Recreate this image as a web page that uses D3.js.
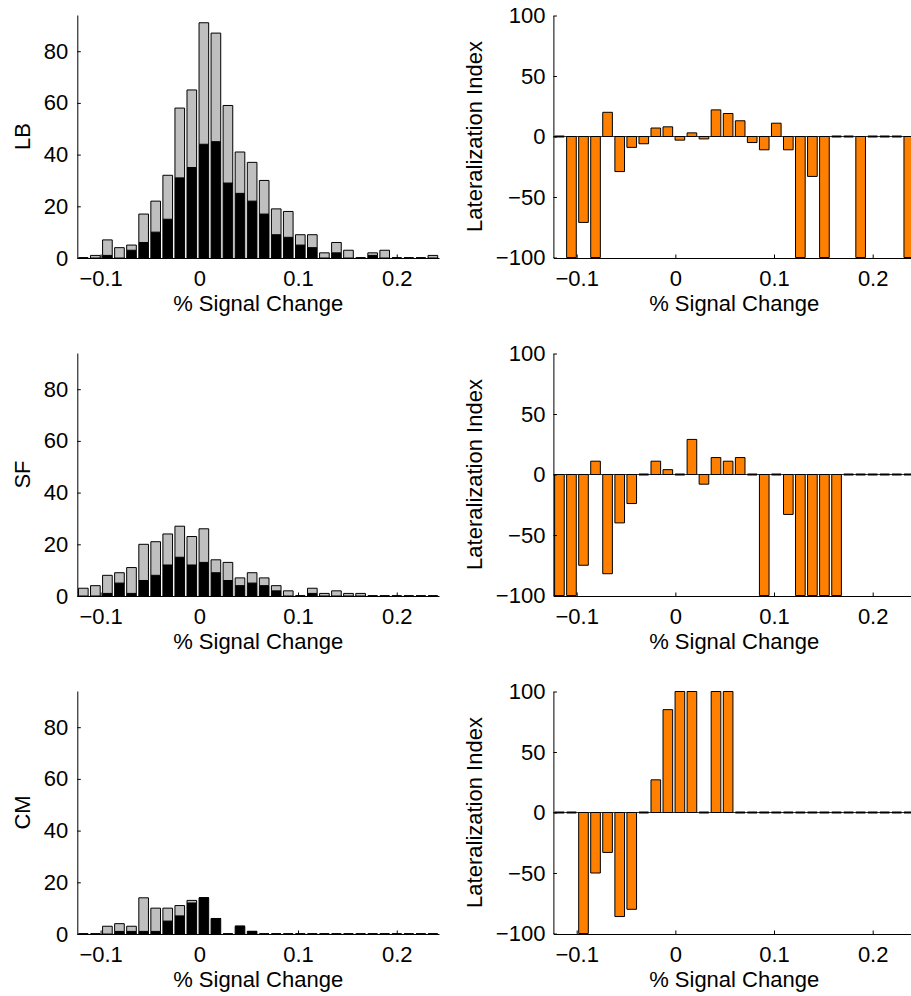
<!DOCTYPE html>
<html>
<head>
<meta charset="utf-8">
<script src="https://cdn.jsdelivr.net/npm/d3@7"></script>
<style>
  html, body { margin: 0; padding: 0; background: #fff; }
  svg { display: block; }
  text { font-family: "Liberation Sans", Arial, Helvetica, sans-serif; }
</style>
</head>
<body>
<svg id="fig" width="911" height="996"></svg>
<script>
// Histogram bin centres (% signal change), shared by all panels
const binCenters = [-0.1175, -0.1053, -0.0931, -0.0809, -0.0687, -0.0564, -0.0442, -0.0320, -0.0198, -0.0076,
                     0.0046,  0.0168,  0.0290,  0.0412,  0.0535,  0.0657,  0.0779,  0.0901,  0.1023,  0.1145,
                     0.1267,  0.1389,  0.1511,  0.1634,  0.1756,  0.1878,  0.2000,  0.2122,  0.2244,  0.2366];
const binWidth = 0.012213;
const xDomain = [-0.1236, 0.2428];

const groupNames = ["LB", "SF", "CM"];

// Voxel counts per bin: black (lower) segment and grey (upper) segment
const lbBlack = [0, 0, 1, 0, 3, 6, 10, 15, 31, 35, 44, 45, 29, 25, 22, 17, 9, 8, 5, 4, 0, 2, 0, 0, 1, 0, 0, 0, 0, 0];
const lbGray  = [0, 1, 6, 4, 2, 11, 12, 17, 27, 30, 47, 42, 30, 16, 15, 13, 10, 10, 4, 5, 2, 4, 3, 0, 1, 3, 0, 0, 0, 1];
const sfBlack = [0, 0, 1, 5, 1, 6, 8, 12, 15, 12, 13, 9, 6, 4, 5, 4, 2, 0, 0, 1, 0, 0, 0, 0, 0, 0, 0, 0, 0, 0];
const sfGray  = [3, 4, 7, 4, 10, 14, 13, 12, 12, 11, 13, 5, 7, 3, 4, 3, 2, 2, 0, 2, 1, 2, 1, 1, 0, 0, 0, 0, 0, 0];
const cmBlack = [0, 0, 0, 1, 1, 1, 1, 5, 7, 12, 14, 6, 0, 3, 1, 0, 0, 0, 0, 0, 0, 0, 0, 0, 0, 0, 0, 0, 0, 0];
const cmGray  = [0, 0, 3, 3, 2, 13, 9, 5, 4, 1, 0, 0, 0, 0, 0, 0, 0, 0, 0, 0, 0, 0, 0, 0, 0, 0, 0, 0, 0, 0];

// Lateralization index per bin
const lbLI = [0, -100, -71, -100, 20, -29, -9, -6, 7, 8, -3, 3, -2, 22, 19, 13, -5, -11, 11, -11, -100, -33, -100, 0, 0, -100, 0, 0, 0, -100];
const sfLI = [-100, -100, -75, 11, -82, -40, -24, 0, 11, 4, 0, 29, -8, 14, 11, 14, 0, -100, 0, -33, -100, -100, -100, -100, 0, 0, 0, 0, 0, 0];
const cmLI = [0, 0, -100, -50, -33, -86, -80, 0, 27, 85, 100, 100, 0, 100, 100, 0, 0, 0, 0, 0, 0, 0, 0, 0, 0, 0, 0, 0, 0, 0];

// Tick values
const xTicks = [-0.1, 0, 0.1, 0.2];
const countTicks = [0, 20, 40, 60, 80];
const liTicks = [-100, -50, 0, 50, 100];

const rows = [
  { name: groupNames[0], black: lbBlack, gray: lbGray, li: lbLI },
  { name: groupNames[1], black: sfBlack, gray: sfGray, li: sfLI },
  { name: groupNames[2], black: cmBlack, gray: cmGray, li: cmLI }
];

const svg = d3.select("#fig");
const rowTop = [15, 353, 691];
const plotH = 243;
const leftRange = [77.3, 439];
const rightRange = [553.4, 914.9];
const FS = 22;
const tickLen = 3.5;
const barFrac = 0.8;

const fmt = d3.format("~g");

// closed bar outline; zero-height bars still show their edge
function barPath(x0, x1, y0, y1) {
  return `M${x0},${y0}H${x1}V${y1}H${x0}Z`;
}

function styleAxis(g) {
  g.selectAll("path.domain").attr("stroke", "#000").attr("stroke-width", 1);
  g.selectAll(".tick line").attr("stroke", "#000").attr("stroke-width", 1);
  g.selectAll(".tick text").attr("fill", "#000").style("font-size", FS + "px")
    .style("font-family", '"Liberation Sans", Arial, sans-serif');
}

rows.forEach((row, r) => {
  const top = rowTop[r];
  const bottom = top + plotH;

  // ---- left: stacked count histogram ----
  const xL = d3.scaleLinear().domain(xDomain).range(leftRange);
  const yL = d3.scaleLinear().domain([0, 94]).range([bottom, top]);
  const gL = svg.append("g");

  const stackData = binCenters.map((c, i) => ({ c, black: row.black[i], gray: row.gray[i] }));
  const stacked = d3.stack().keys(["black", "gray"])(stackData);
  const fills = { black: "#000000", gray: "#bfbfbf" };

  stacked.forEach(layer => {
    gL.append("g").selectAll("path")
      .data(layer)
      .join("path")
      .attr("d", d => {
        const x0 = xL(d.data.c - binWidth * barFrac / 2);
        const x1 = xL(d.data.c + binWidth * barFrac / 2);
        return barPath(x0, x1, yL(d[0]), yL(d[1]));
      })
      .attr("fill", fills[layer.key])
      .attr("stroke", "#000")
      .attr("stroke-width", d => (d[1] - d[0] === 0 && d[0] === 0) ? 1.6 : 1);
  });

  const axL = gL.append("g").attr("transform", `translate(${leftRange[0]},0)`)
    .call(d3.axisLeft(yL).tickValues(countTicks).tickFormat(fmt)
      .tickSizeInner(-tickLen).tickSizeOuter(0).tickPadding(9));
  styleAxis(axL);
  const axLB = gL.append("g").attr("transform", `translate(0,${bottom})`)
    .call(d3.axisBottom(xL).tickValues(xTicks).tickFormat(fmt)
      .tickSizeInner(-tickLen).tickSizeOuter(0).tickPadding(12));
  styleAxis(axLB);

  gL.append("text")
    .attr("transform", `translate(29.5,${(top + bottom) / 2}) rotate(-90)`)
    .attr("text-anchor", "middle")
    .style("font-size", FS + "px")
    .text(row.name);
  gL.append("text")
    .attr("x", (leftRange[0] + leftRange[1]) / 2)
    .attr("y", bottom + 53)
    .attr("text-anchor", "middle")
    .style("font-size", FS + "px")
    .text("% Signal Change");

  // ---- right: lateralization index per bin ----
  const xR = d3.scaleLinear().domain(xDomain).range(rightRange);
  const yR = d3.scaleLinear().domain([-100, 100]).range([bottom - 0.5, top + 0.5]);
  const gR = svg.append("g");

  // zero baseline
  gR.append("line")
    .attr("x1", rightRange[0]).attr("x2", rightRange[1])
    .attr("y1", yR(0)).attr("y2", yR(0))
    .attr("stroke", "#000").attr("stroke-width", 0.8);

  gR.append("g").selectAll("path")
    .data(binCenters.map((c, i) => ({ c, v: row.li[i] })))
    .join("path")
    .attr("d", d => {
      const x0 = xR(d.c - binWidth * barFrac / 2);
      const x1 = xR(d.c + binWidth * barFrac / 2);
      return barPath(x0, x1, yR(0), yR(d.v));
    })
    .attr("fill", "#ff8000")
    .attr("stroke", "#000")
    .attr("stroke-width", d => d.v === 0 ? 1.8 : 1);

  const axR = gR.append("g").attr("transform", `translate(${rightRange[0]},0)`)
    .call(d3.axisLeft(yR).tickValues(liTicks).tickFormat(fmt)
      .tickSizeInner(-tickLen).tickSizeOuter(0).tickPadding(8));
  styleAxis(axR);
  const axRB = gR.append("g").attr("transform", `translate(0,${bottom})`)
    .call(d3.axisBottom(xR).tickValues(xTicks).tickFormat(fmt)
      .tickSizeInner(-tickLen).tickSizeOuter(0).tickPadding(12));
  styleAxis(axRB);

  gR.append("text")
    .attr("transform", `translate(482,${(top + bottom) / 2}) rotate(-90)`)
    .attr("text-anchor", "middle")
    .style("font-size", FS + "px")
    .text("Lateralization Index");
  gR.append("text")
    .attr("x", (rightRange[0] + rightRange[1]) / 2)
    .attr("y", bottom + 53)
    .attr("text-anchor", "middle")
    .style("font-size", FS + "px")
    .text("% Signal Change");
});
</script>
</body>
</html>
